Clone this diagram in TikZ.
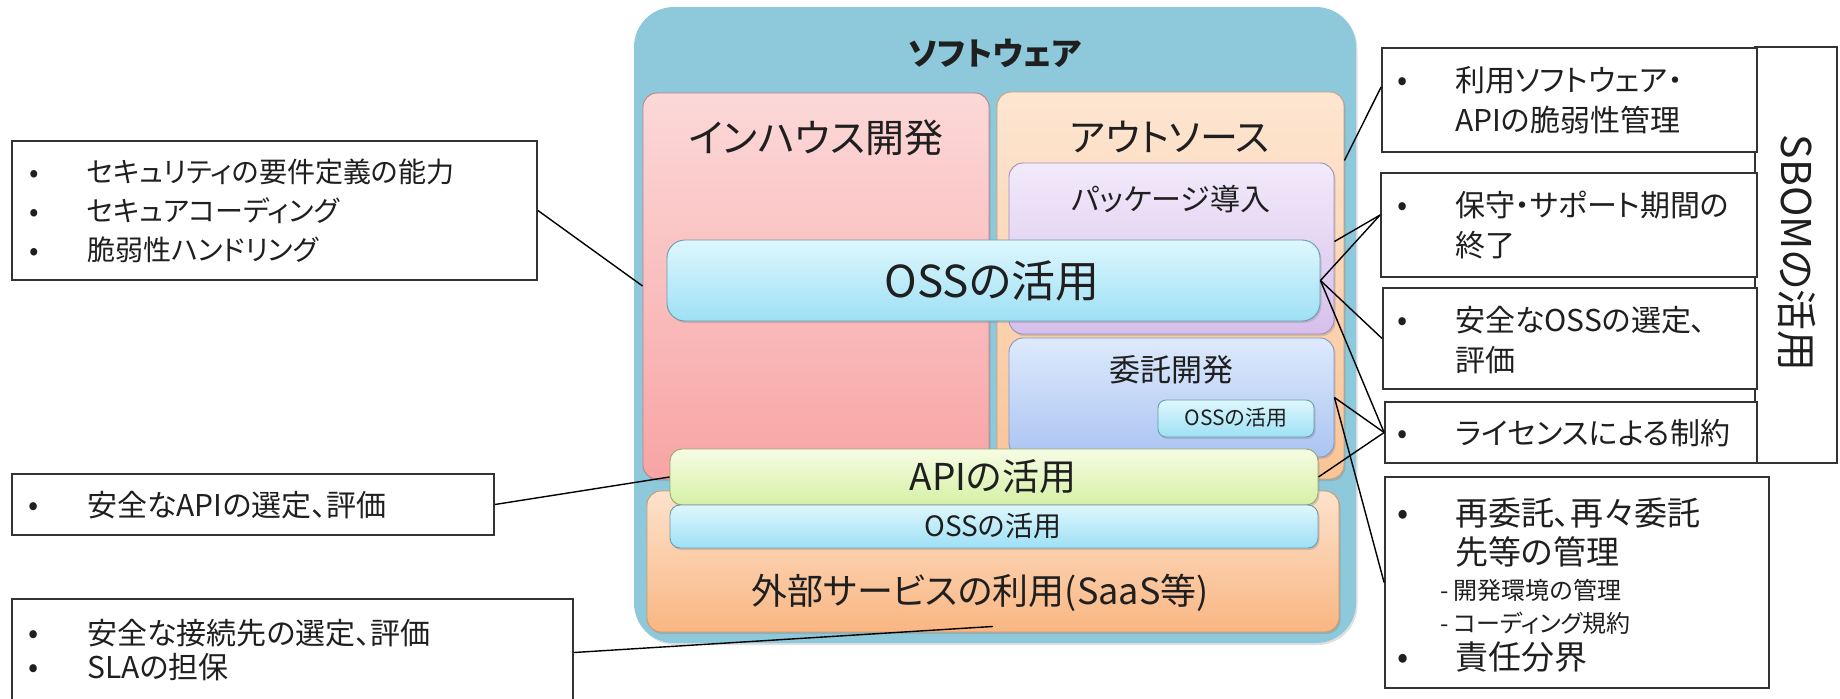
\documentclass[tikz,border=0pt]{standalone}
\usepackage{fontspec}
\setmainfont{Noto Sans CJK JP}[RawFeature=+palt]
\usetikzlibrary{shadows}

% fills
\definecolor{panelblue}{RGB}{141,201,219}
\definecolor{pinkT}{RGB}{252,216,216}
\definecolor{pinkB}{RGB}{248,164,164}
\definecolor{pinkD}{RGB}{190,130,130}
\definecolor{peachT}{RGB}{253,230,210}
\definecolor{peachB}{RGB}{250,196,150}
\definecolor{peachD}{RGB}{205,160,120}
\definecolor{lilacT}{RGB}{242,234,250}
\definecolor{lilacB}{RGB}{214,192,236}
\definecolor{lilacD}{RGB}{160,140,190}
\definecolor{bluT}{RGB}{222,234,252}
\definecolor{bluB}{RGB}{170,196,242}
\definecolor{bluD}{RGB}{130,150,200}
\definecolor{cyanT}{RGB}{222,247,253}
\definecolor{cyanB}{RGB}{158,224,245}
\definecolor{cyanD}{RGB}{105,155,175}
\definecolor{limeT}{RGB}{246,252,228}
\definecolor{limeB}{RGB}{214,240,165}
\definecolor{limeD}{RGB}{150,170,110}
\definecolor{orT}{RGB}{253,226,204}
\definecolor{orB}{RGB}{249,182,130}
\definecolor{orD}{RGB}{210,150,100}

\tikzset{
  fs/.style={font=\fontsize{#1}{#1}\selectfont},
  txt/.style={inner sep=0pt, text=black!88, execute at begin node={\vphantom{国}}},
  cbox/.style={rounded corners=14pt, inner sep=0pt, line width=0.9pt,
    drop shadow={shadow xshift=1.5pt, shadow yshift=-2pt, opacity=0.3}},
  wbox/.style={draw=black!80, line width=1.8pt, fill=white, inner sep=0pt},
  conn/.style={draw=black, line width=1.4pt},
}

\begin{document}
\begin{tikzpicture}[x=1pt, y=-1pt]
\useasboundingbox (0,0) rectangle (1840,699);

% ---------- software panel ----------
\node[inner sep=0pt, rounded corners=40pt, fill=panelblue,
  drop shadow={shadow xshift=1.5pt, shadow yshift=-2pt, opacity=0.25},
  minimum width=722pt, minimum height=636pt] (panel) at (995,325) {};
\node[txt, font=\bfseries\fontsize{32}{32}\selectfont] (t-panel) at (995,54) {ソフトウェア};

\node[cbox, top color=pinkT, bottom color=pinkB, draw=pinkD,
  minimum width=346pt, minimum height=386pt] (inhouse) at (816,286) {};
\node[txt, fs=39] (t-inhouse) at (816,138) {インハウス開発};

\node[cbox, top color=peachT, bottom color=peachB, draw=peachD,
  minimum width=347pt, minimum height=387pt] (outsrc) at (1170.5,285.5) {};
\node[txt, fs=38] (t-outsrc) at (1170,138) {アウトソース};

\node[cbox, top color=lilacT, bottom color=lilacB, draw=lilacD,
  minimum width=325pt, minimum height=171pt] (pkg) at (1171.5,248.5) {};
\node[txt, fs=30] (t-pkg) at (1171,199) {パッケージ導入};

\node[cbox, top color=bluT, bottom color=bluB, draw=bluD,
  minimum width=325pt, minimum height=119pt] (itaku) at (1171.5,397.5) {};
\node[txt, fs=31] (t-itaku) at (1171,370) {委託開発};

\node[cbox, rounded corners=8pt, top color=cyanT, bottom color=cyanB, draw=cyanD,
  minimum width=156pt, minimum height=37pt] (osss) at (1236,418.5) {};
\node[txt, fs=21] (t-osss) at (1236,418) {OSSの活用};

\node[cbox, rounded corners=18pt, top color=cyanT, bottom color=cyanB, draw=cyanD,
  minimum width=653pt, minimum height=81pt] (oss) at (993.5,280.5) {};
\node[txt, fs=44] (t-oss) at (992,281) {OSSの活用};

\node[cbox, top color=orT, bottom color=orB, draw=orD,
  minimum width=692pt, minimum height=141pt] (ext) at (993,561.5) {};
\node[txt, fs=36] (t-ext) at (980,593) {外部サービスの利用(SaaS等)};

\node[cbox, rounded corners=12pt, top color=limeT, bottom color=limeB, draw=limeD,
  minimum width=648pt, minimum height=56pt] (api) at (994,477) {};
\node[txt, fs=37] (t-api) at (993,477) {APIの活用};

\node[cbox, rounded corners=10pt, top color=cyanT, bottom color=cyanB, draw=cyanD,
  minimum width=648pt, minimum height=43pt] (ossl) at (994,526.5) {};
\node[txt, fs=28] (t-ossl) at (993,526) {OSSの活用};

% ---------- left notes ----------
\node[wbox, minimum width=525pt, minimum height=139pt] (l1) at (274.5,210.5) {};
\node[txt, fs=28] (l1-b1) at (34,172) {•};
\node[txt, fs=28] (l1-b2) at (34,211) {•};
\node[txt, fs=28] (l1-b3) at (34,250) {•};
\node[txt, fs=28, anchor=west] (l1-t1) at (87,172) {セキュリティの要件定義の能力};
\node[txt, fs=28, anchor=west] (l1-t2) at (87,211) {セキュアコーディング};
\node[txt, fs=28, anchor=west] (l1-t3) at (87,250) {脆弱性ハンドリング};

\node[wbox, minimum width=482pt, minimum height=61pt] (l2) at (253,504.5) {};
\node[txt, fs=30] (l2-b1) at (34,505) {•};
\node[txt, fs=30, anchor=west] (l2-t1) at (87,505) {安全なAPIの選定、評価};

\node[wbox, minimum width=561pt, minimum height=107pt] (l3) at (292.5,652.5) {};
\node[txt, fs=30] (l3-b1) at (34,633) {•};
\node[txt, fs=30] (l3-b2) at (34,667) {•};
\node[txt, fs=30, anchor=west] (l3-t1) at (87,633) {安全な接続先の選定、評価};
\node[txt, fs=30, anchor=west] (l3-t2) at (87,667) {SLAの担保};

% ---------- right notes ----------
\node[wbox, minimum width=82pt, minimum height=416pt] (sbom) at (1796,255) {};
\node[txt, fs=41, rotate=-90] (t-sbom) at (1797,253) {SBOMの活用};

\node[wbox, minimum width=375pt, minimum height=104pt] (r1) at (1569.5,100) {};
\node[txt, fs=30] (r1-b1) at (1403,80) {•};
\node[txt, fs=30, anchor=west] (r1-t1) at (1455,80) {利用ソフトウェア・};
\node[txt, fs=30, anchor=west] (r1-t2) at (1455,120) {APIの脆弱性管理};

\node[wbox, minimum width=376pt, minimum height=104pt] (r2) at (1569,225) {};
\node[txt, fs=30] (r2-b1) at (1403,205) {•};
\node[txt, fs=30, anchor=west] (r2-t1) at (1455,205) {保守・サポート期間の};
\node[txt, fs=30, anchor=west] (r2-t2) at (1455,245) {終了};

\node[wbox, minimum width=374pt, minimum height=101pt] (r3) at (1570,338.5) {};
\node[txt, fs=30] (r3-b1) at (1403,320) {•};
\node[txt, fs=30, anchor=west] (r3-t1) at (1455,320) {安全なOSSの選定、};
\node[txt, fs=30, anchor=west] (r3-t2) at (1455,360) {評価};

\node[wbox, minimum width=372pt, minimum height=61pt] (r4) at (1571,432.5) {};
\node[txt, fs=30] (r4-b1) at (1403,433) {•};
\node[txt, fs=30, anchor=west] (r4-t1) at (1455,433) {ライセンスによる制約};

\node[wbox, minimum width=384pt, minimum height=211pt] (r5) at (1577,582.5) {};
\node[txt, fs=33] (r5-b1) at (1403,513) {•};
\node[txt, fs=33, anchor=west] (r5-t1) at (1455,513) {再委託、再々委託};
\node[txt, fs=33, anchor=west] (r5-t2) at (1455,552) {先等の管理};
\node[txt, fs=24, anchor=west] (r5-t3) at (1440,590) {- 開発環境の管理};
\node[txt, fs=24, anchor=west] (r5-t4) at (1440,623) {- コーディング規約};
\node[txt, fs=33] (r5-b2) at (1403,657) {•};
\node[txt, fs=33, anchor=west] (r5-t5) at (1455,657) {責任分界};

% ---------- connectors ----------
\draw[conn] (l1.east) -- (inhouse.west);
\draw[conn] (l2.east) -- (api.west);
\draw[conn] (l3.east) -- ([yshift=6pt]ext.south);

\draw[conn] ([yshift=13pt]r1.west) -- ([yshift=125pt]outsrc.east);
\draw[conn] ([yshift=10pt]r2.west) -- ([yshift=7pt]pkg.east);
\draw[conn] ([yshift=10pt]r2.west) -- (oss.east);
\draw[conn] (r3.west) -- (oss.east);
\draw[conn] (r4.west) -- (oss.east);
\draw[conn] (r4.west) -- (itaku.east);
\draw[conn] (r4.west) -- (api.east);
\draw[conn] (r5.west) -- (itaku.east);
\end{tikzpicture}
\end{document}
